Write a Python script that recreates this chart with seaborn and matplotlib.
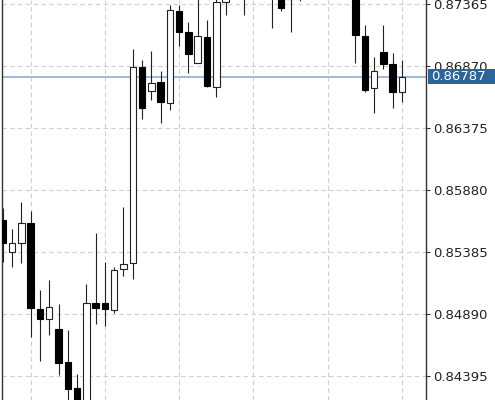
import matplotlib
matplotlib.use("Agg")
import matplotlib.pyplot as plt
import matplotlib.transforms as mtransforms
from matplotlib.patches import Rectangle
import seaborn as sns
import numpy as np

# OHLC values (candles above the visible window are kept too)
opens = [0.85642, 0.85389, 0.85456, 0.85616, 0.84931, 0.84849, 0.84774, 0.84508,
         0.84298, 0.84120, 0.84981, 0.84977, 0.84923, 0.85253, 0.85301, 0.86862,
         0.86675, 0.86747, 0.86574, 0.87314, 0.87141, 0.86899, 0.87106, 0.86707,
         0.87386, 0.87520, 0.87550, 0.87440, 0.87560, 0.87500, 0.87430, 0.87410,
         0.87490, 0.87440, 0.87530, 0.87600, 0.87550, 0.87480, 0.87520, 0.87114,
         0.86694, 0.86982, 0.86888, 0.86667]
highs = [0.85738, 0.85568, 0.85783, 0.85714, 0.85083, 0.85163, 0.84971, 0.84763,
         0.84412, 0.85131, 0.85541, 0.85309, 0.85269, 0.85748, 0.87006, 0.86920,
         0.86994, 0.86832, 0.87359, 0.87359, 0.87226, 0.87450, 0.87240, 0.87410,
         0.87560, 0.87600, 0.87580, 0.87620, 0.87640, 0.87580, 0.87520, 0.87550,
         0.87570, 0.87600, 0.87680, 0.87700, 0.87620, 0.87580, 0.87600, 0.87200,
         0.86942, 0.87200, 0.86978, 0.86920]
lows = [0.85309, 0.85269, 0.85301, 0.84705, 0.84516, 0.84721, 0.84404, 0.84180,
        0.84100, 0.84080, 0.84811, 0.84798, 0.84897, 0.85195, 0.85168, 0.86449,
        0.86601, 0.86419, 0.86521, 0.87034, 0.86814, 0.86899, 0.86705, 0.86622,
        0.87280, 0.87450, 0.87280, 0.87410, 0.87420, 0.87178, 0.87314, 0.87141,
        0.87395, 0.87410, 0.87480, 0.87500, 0.87430, 0.87420, 0.86894, 0.86667,
        0.86494, 0.86848, 0.86534, 0.86587]
closes = [0.85461, 0.85456, 0.85616, 0.84937, 0.84849, 0.84947, 0.84502, 0.84292,
          0.84150, 0.84981, 0.84937, 0.84931, 0.85243, 0.85291, 0.86862, 0.86534,
          0.86734, 0.86582, 0.87319, 0.87141, 0.86966, 0.87112, 0.86712, 0.87381,
          0.87500, 0.87480, 0.87440, 0.87560, 0.87500, 0.87430, 0.87333, 0.87490,
          0.87440, 0.87530, 0.87600, 0.87550, 0.87480, 0.87520, 0.87120, 0.86680,
          0.86832, 0.86886, 0.86667, 0.86787]

last_price = 0.86787
price_ticks = [0.84395, 0.84890, 0.85385, 0.85880, 0.86375, 0.86870, 0.87365]
grid_candles = [3, 11, 19, 27, 35, 43]

sns.set_style("white")
plt.rcParams["font.family"] = ["DejaVu Sans"]

fig = plt.figure(figsize=(4.95, 4.0), dpi=100)
ax = fig.add_axes([2 / 495, 0, 424 / 495, 1])

x = np.arange(len(opens))
o = np.array(opens)
h = np.array(highs)
l = np.array(lows)
c = np.array(closes)
up = c >= o

# wicks
ax.vlines(x, l, h, color="#222222", linewidth=0.8, zorder=3)
# bodies
body_lo = np.minimum(o, c)
body_h = np.maximum(np.abs(c - o), 0.00002)
ax.bar(x[up], body_h[up], bottom=body_lo[up], width=0.7,
       color="white", edgecolor="#222222", linewidth=0.8, zorder=4)
ax.bar(x[~up], body_h[~up], bottom=body_lo[~up], width=0.7,
       color="black", edgecolor="black", linewidth=0.8, zorder=4)

# last price line
ax.axhline(last_price, color="#9ab4d3", linewidth=1.3, zorder=2)

ax.set_xlim(-0.09, 45.6)
ax.set_ylim(0.842042, 0.873993)

ax.set_xticks(grid_candles)
ax.set_yticks(price_ticks)
ax.set_yticklabels([f"{t:.5f}" for t in price_ticks])
ax.grid(True, color="#cfcfcf", linestyle=(0, (4, 3)), linewidth=0.8, zorder=0)
ax.set_axisbelow(True)

ax.yaxis.tick_right()
ax.tick_params(axis="y", which="both", right=True, left=False, length=3,
               width=0.8, color="#333333", labelsize=9.5, labelcolor="#222222",
               pad=2)
ax.tick_params(axis="x", bottom=False, labelbottom=False)

for side in ["top", "bottom"]:
    ax.spines[side].set_visible(False)
for side in ["left", "right"]:
    ax.spines[side].set_color("#333333")
    ax.spines[side].set_linewidth(1.0)

# price label box on the right axis (covers the neighbouring tick label)
trans = mtransforms.blended_transform_factory(ax.transAxes, ax.transData)
box_h = 0.0012
ax.add_patch(Rectangle((1.0047, last_price - box_h / 2), 0.16, box_h,
                       transform=trans, facecolor="#2f6499", edgecolor="none",
                       clip_on=False, zorder=6))
ax.text(1.0118, last_price, f"{last_price:.5f}", transform=trans,
        ha="left", va="center", fontsize=9.5, color="white", clip_on=False,
        zorder=7)

fig.savefig("out.png", dpi=100)
